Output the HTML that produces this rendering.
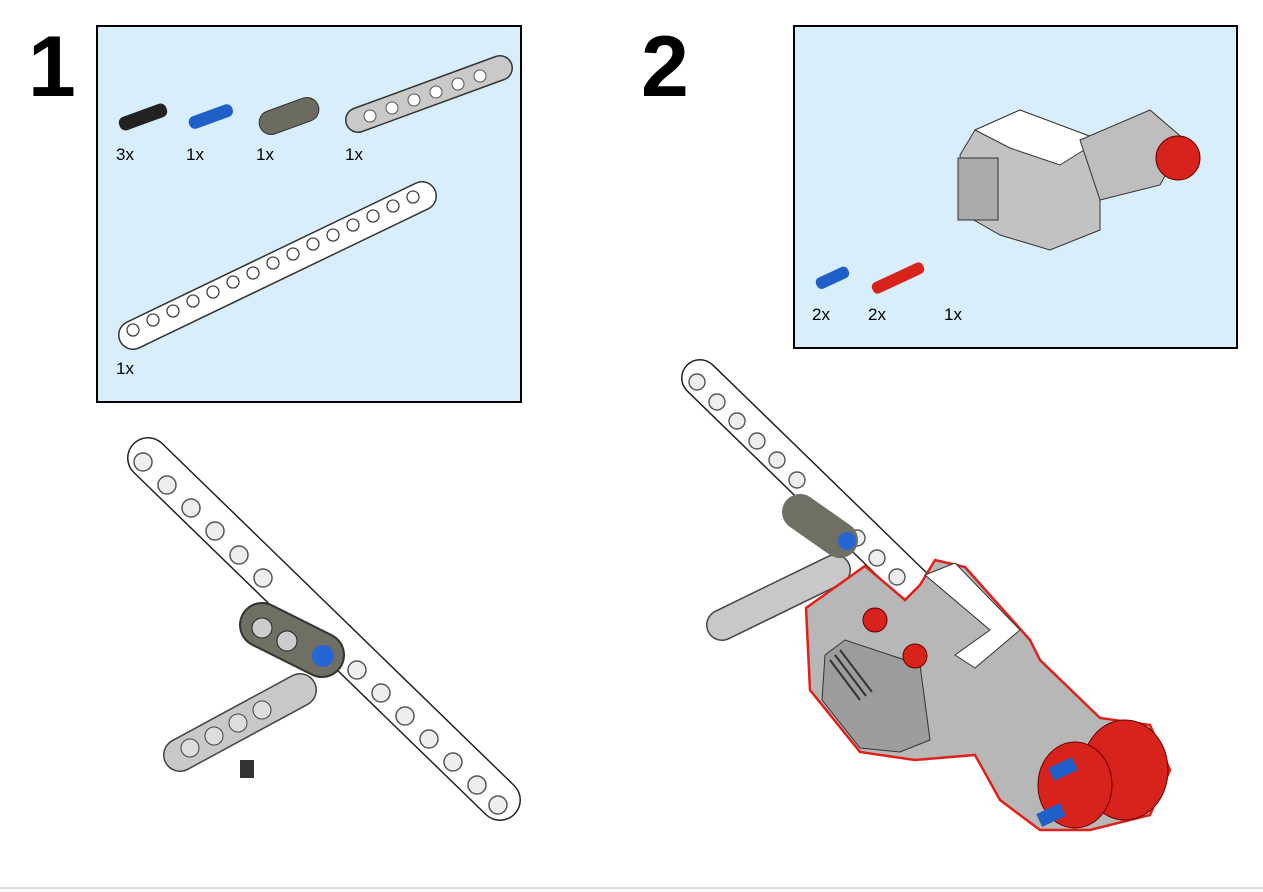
<!DOCTYPE html>
<html><head><style>
html,body{margin:0;padding:0;background:#fff;width:1263px;height:892px;overflow:hidden}
svg{display:block}
text{font-family:"Liberation Sans",sans-serif}
</style></head><body>
<svg width="1263" height="892" viewBox="0 0 1263 892">
<defs>
<pattern id="h" x="0" y="0" width="1" height="1"></pattern>
</defs>
<!-- step numbers -->
<text x="28" y="96" font-size="86" font-weight="bold">1</text>
<text x="641" y="96" font-size="86" font-weight="bold">2</text>
<!-- box 1 -->
<rect x="97" y="26" width="424" height="376" fill="#d8eefb" stroke="#000" stroke-width="2"/>
<!-- parts row -->
<g>
<rect x="118" y="110" width="50" height="14" rx="6" fill="#222" transform="rotate(-20 143 117)"/>
<rect x="188" y="110" width="46" height="13" rx="6" fill="#1f5fc8" transform="rotate(-20 211 117)"/>
<rect x="258" y="104" width="62" height="24" rx="12" fill="#6b6b60" stroke="#333" transform="rotate(-20 289 116)"/>
<line x1="358" y1="120" x2="500" y2="68" stroke="#333" stroke-width="26" stroke-linecap="round"/>
<line x1="358" y1="120" x2="500" y2="68" stroke="#c9c9c9" stroke-width="23" stroke-linecap="round"/>
<g fill="#fff" stroke="#555">
<circle cx="370" cy="116" r="6"/><circle cx="392" cy="108" r="6"/><circle cx="414" cy="100" r="6"/><circle cx="436" cy="92" r="6"/><circle cx="458" cy="84" r="6"/><circle cx="480" cy="76" r="6"/>
</g>
</g>
<g font-size="17">
<text x="116" y="160">3x</text><text x="186" y="160">1x</text><text x="256" y="160">1x</text><text x="345" y="160">1x</text>
<text x="116" y="374">1x</text>
</g>
<!-- long beam box1 -->
<line x1="133" y1="335" x2="422" y2="196" stroke="#333" stroke-width="30" stroke-linecap="round"/>
<line x1="133" y1="335" x2="422" y2="196" stroke="#fff" stroke-width="27" stroke-linecap="round"/>
<g fill="#fff" stroke="#444" stroke-width="1.3">
<circle cx="133" cy="330" r="6"/><circle cx="153" cy="320" r="6"/><circle cx="173" cy="311" r="6"/><circle cx="193" cy="301" r="6"/><circle cx="213" cy="292" r="6"/><circle cx="233" cy="282" r="6"/><circle cx="253" cy="273" r="6"/><circle cx="273" cy="263" r="6"/><circle cx="293" cy="254" r="6"/><circle cx="313" cy="244" r="6"/><circle cx="333" cy="235" r="6"/><circle cx="353" cy="225" r="6"/><circle cx="373" cy="216" r="6"/><circle cx="393" cy="206" r="6"/><circle cx="413" cy="197" r="6"/>
</g>
<!-- assembly 1 -->
<line x1="148" y1="458" x2="500" y2="800" stroke="#222" stroke-width="42" stroke-linecap="round"/>
<line x1="148" y1="458" x2="500" y2="800" stroke="#fff" stroke-width="39" stroke-linecap="round"/>
<g fill="#eee" stroke="#555" stroke-width="1.5">
<circle cx="143" cy="462" r="9"/><circle cx="167" cy="485" r="9"/><circle cx="191" cy="508" r="9"/><circle cx="215" cy="531" r="9"/><circle cx="239" cy="555" r="9"/><circle cx="263" cy="578" r="9"/>
<circle cx="357" cy="670" r="9"/><circle cx="381" cy="693" r="9"/><circle cx="405" cy="716" r="9"/><circle cx="429" cy="739" r="9"/><circle cx="453" cy="762" r="9"/><circle cx="477" cy="785" r="9"/><circle cx="498" cy="805" r="9"/>
</g>
<line x1="300" y1="690" x2="180" y2="755" stroke="#444" stroke-width="34" stroke-linecap="round"/>
<line x1="300" y1="690" x2="180" y2="755" stroke="#c8c8c8" stroke-width="31" stroke-linecap="round"/>
<g fill="#ddd" stroke="#444"><circle cx="190" cy="748" r="9"/><circle cx="214" cy="736" r="9"/><circle cx="238" cy="723" r="9"/><circle cx="262" cy="710" r="9"/></g>
<rect x="240" y="760" width="14" height="18" fill="#333"/>
<line x1="262" y1="625" x2="322" y2="655" stroke="#333" stroke-width="46" stroke-linecap="round"/>
<line x1="262" y1="625" x2="322" y2="655" stroke="#706f63" stroke-width="42" stroke-linecap="round"/>
<circle cx="262" cy="628" r="10" fill="#ccc" stroke="#222"/><circle cx="287" cy="641" r="10" fill="#ccc" stroke="#222"/>
<circle cx="323" cy="656" r="11" fill="#2467d2"/>
<!-- box 2 -->
<rect x="794" y="26" width="443" height="322" fill="#d8eefb" stroke="#000" stroke-width="2"/>
<polygon points="975,130 1020,110 1100,140 1100,230 1050,250 1000,235 965,215 960,155" fill="#c2c2c2" stroke="#333"/>
<polygon points="975,130 1020,110 1100,140 1060,165 1010,148" fill="#fff" stroke="#333"/>
<polygon points="1080,140 1150,110 1185,140 1160,185 1100,200" fill="#bdbdbd" stroke="#333"/>
<rect x="958" y="158" width="40" height="62" fill="#aaa" stroke="#333"/>
<circle cx="1178" cy="158" r="22" fill="#d8221c" stroke="#600"/>
<rect x="815" y="272" width="35" height="12" rx="5" fill="#1f5fc8" transform="rotate(-25 832 278)"/>
<rect x="870" y="272" width="56" height="12" rx="5" fill="#d8221c" transform="rotate(-25 898 278)"/>
<g font-size="17"><text x="812" y="320">2x</text><text x="868" y="320">2x</text><text x="944" y="320">1x</text></g>
<!-- assembly 2 -->
<line x1="700" y1="378" x2="985" y2="655" stroke="#222" stroke-width="38" stroke-linecap="round"/>
<line x1="700" y1="378" x2="985" y2="655" stroke="#fff" stroke-width="35" stroke-linecap="round"/>
<g fill="#eee" stroke="#555" stroke-width="1.4">
<circle cx="697" cy="382" r="8"/><circle cx="717" cy="402" r="8"/><circle cx="737" cy="421" r="8"/><circle cx="757" cy="441" r="8"/><circle cx="777" cy="460" r="8"/><circle cx="797" cy="480" r="8"/><circle cx="857" cy="538" r="8"/><circle cx="877" cy="558" r="8"/><circle cx="897" cy="577" r="8"/>
</g>
<line x1="835" y1="570" x2="722" y2="625" stroke="#444" stroke-width="32" stroke-linecap="round"/>
<line x1="835" y1="570" x2="722" y2="625" stroke="#c8c8c8" stroke-width="29" stroke-linecap="round"/>
<line x1="800" y1="512" x2="840" y2="540" stroke="#706f63" stroke-width="36" stroke-linecap="round"/>
<circle cx="847" cy="541" r="9" fill="#2467d2"/>
<polygon points="806,608 865,566 905,600 920,585 935,560 965,567 1030,640 1040,660 1100,718 1150,725 1170,770 1150,815 1090,830 1040,830 1000,800 975,755 915,760 860,752 810,690" fill="#b7b7b7" stroke="#e0201a" stroke-width="2.5"/>
<polygon points="925,575 955,563 1020,630 975,668 955,655 990,630" fill="#fff" stroke="#333"/>
<polygon points="825,655 845,640 920,665 930,740 900,752 860,748 822,700" fill="#9c9c9c" stroke="#333"/>
<g stroke="#333" stroke-width="2"><line x1="830" y1="660" x2="860" y2="700"/><line x1="835" y1="655" x2="866" y2="696"/><line x1="840" y1="650" x2="872" y2="692"/></g>
<circle cx="875" cy="620" r="12" fill="#d8221c" stroke="#600"/>
<circle cx="915" cy="656" r="12" fill="#d8221c" stroke="#600"/>
<ellipse cx="1125" cy="770" rx="43" ry="50" fill="#d8221c" stroke="#600"/>
<ellipse cx="1075" cy="785" rx="37" ry="43" fill="#d8221c" stroke="#600"/>
<rect x="1050" y="762" width="26" height="14" fill="#1f5fc8" transform="rotate(-25 1063 769)"/>
<rect x="1038" y="808" width="26" height="14" fill="#1f5fc8" transform="rotate(-25 1051 815)"/>
<line x1="0" y1="888" x2="1263" y2="888" stroke="#ddd" stroke-width="2"/>
</svg>
</body></html>
